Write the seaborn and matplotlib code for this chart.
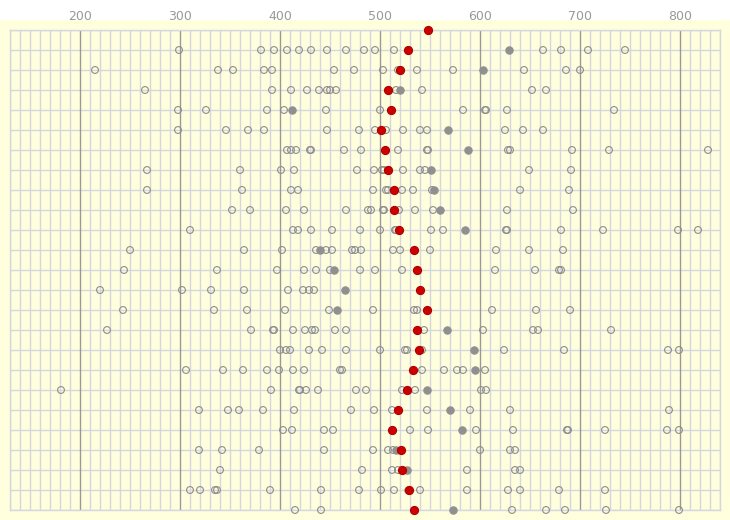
import pandas as pd
import matplotlib.pyplot as plt
import seaborn as sns
from matplotlib.ticker import MultipleLocator
from matplotlib.patches import Rectangle

# Valores (uma linha por categoria, de cima para baixo)
red_vals = [548, 528, 520, 508, 511, 501, 505, 508, 514, 514, 519, 534, 537,
            540, 547, 537, 539, 533, 527, 518, 512, 521, 522, 529, 534]

gray_vals = [[], [629], [603], [520], [412], [568], [588], [551], [554], [560],
             [585], [440], [454], [465], [457], [567], [594], [595], [547], [570],
             [582], [516], [527], [528], [573]]

open_vals = [
    [],
    [299, 381, 394, 407, 419, 431, 447, 466, 484, 495, 514, 663, 681, 708, 745],
    [215, 338, 353, 384, 392, 454, 474, 503, 518, 537, 573, 644, 686, 700],
    [265, 392, 411, 427, 439, 447, 450, 456, 516, 542, 652, 666],
    [298, 326, 387, 404, 446, 500, 583, 605, 606, 627, 734],
    [298, 346, 368, 384, 447, 479, 495, 506, 523, 540, 547, 625, 643, 663],
    [407, 411, 416, 430, 431, 464, 481, 518, 547, 548, 628, 630, 692, 729, 828],
    [267, 360, 401, 414, 477, 494, 502, 504, 523, 540, 545, 649, 691],
    [267, 362, 411, 418, 493, 506, 508, 522, 533, 552, 640, 689],
    [352, 370, 406, 424, 466, 488, 491, 503, 504, 519, 535, 553, 627, 693],
    [310, 413, 418, 431, 452, 480, 500, 515, 516, 551, 563, 626, 627, 681, 723, 798, 818],
    [250, 364, 402, 436, 446, 452, 472, 475, 481, 513, 520, 550, 616, 649, 683],
    [244, 337, 397, 424, 436, 450, 480, 495, 522, 615, 655, 679, 681],
    [220, 302, 331, 364, 408, 423, 429, 434],
    [243, 334, 367, 405, 449, 493, 534, 537, 612, 656, 690],
    [227, 371, 393, 394, 413, 425, 432, 435, 455, 466, 544, 603, 653, 658, 731],
    [400, 406, 410, 429, 442, 466, 500, 525, 527, 542, 624, 684, 788, 799],
    [306, 343, 363, 387, 399, 413, 424, 460, 462, 542, 564, 577, 583, 605],
    [181, 391, 419, 420, 426, 438, 476, 486, 522, 535, 601, 606],
    [319, 348, 359, 383, 414, 471, 494, 512, 547, 590, 630, 789],
    [403, 412, 444, 453, 530, 548, 596, 633, 687, 688, 725, 787, 799],
    [319, 342, 379, 444, 493, 508, 513, 600, 630, 635],
    [340, 482, 512, 518, 587, 635, 640],
    [310, 320, 335, 337, 390, 441, 479, 501, 514, 540, 587, 628, 640, 679, 725],
    [415, 441, 632, 666, 685, 726, 799],
]

tick_vals = [200, 300, 400, 500, 600, 700, 800]

bg = "#FFFFDD"
grid_col = "#D6D6DE"

# Monta os dados em formato longo
rows = []
for i, vals in enumerate(open_vals):
    for v in vals:
        rows.append({"linha": i, "valor": v, "tipo": "aberto"})
for i, vals in enumerate(gray_vals):
    for v in vals:
        rows.append({"linha": i, "valor": v, "tipo": "cinza"})
for i, v in enumerate(red_vals):
    rows.append({"linha": i, "valor": v, "tipo": "vermelho"})
df = pd.DataFrame(rows)

sns.set_style("white")
fig = plt.figure(figsize=(7.3, 5.2), dpi=100)
fig.patch.set_facecolor("white")
fig.patches.append(Rectangle((0, 0), 1, 500 / 520, transform=fig.transFigure,
                             facecolor=bg, edgecolor="none", zorder=-10))
ax = fig.add_axes([10 / 730, 10 / 520, 710 / 730, 480 / 520])
ax.set_facecolor(bg)

# Pontos abertos
d = df[df["tipo"] == "aberto"]
sns.scatterplot(x="valor", y="linha", data=d, ax=ax, marker="o", s=24,
                facecolor="none", edgecolor="#8c8c8c", linewidth=0.8,
                zorder=3, clip_on=False)
# Pontos cinza preenchidos
d = df[df["tipo"] == "cinza"]
sns.scatterplot(x="valor", y="linha", data=d, ax=ax, marker="o", s=28,
                color="#909090", edgecolor="#909090", linewidth=0.8,
                zorder=4, clip_on=False)
# Pontos vermelhos
d = df[df["tipo"] == "vermelho"]
sns.scatterplot(x="valor", y="linha", data=d, ax=ax, marker="o", s=34,
                color="#CC0000", edgecolor="#B00000", linewidth=0.8,
                zorder=5, clip_on=False)

ax.set_xlim(130, 840)
ax.set_ylim(24, 0)
ax.set_xlabel("")
ax.set_ylabel("")

# Grade
ax.xaxis.set_minor_locator(MultipleLocator(10))
ax.set_xticks(tick_vals)
ax.set_yticks(range(25))
ax.grid(which="minor", axis="x", color=grid_col, linewidth=1)
ax.grid(which="major", axis="y", color=grid_col, linewidth=1)
ax.set_axisbelow(True)
for x in tick_vals:
    ax.axvline(x, color="#999999", linewidth=1, zorder=1)
for s in ax.spines.values():
    s.set_color(grid_col)
    s.set_linewidth(1)

ax.xaxis.tick_top()
ax.tick_params(axis="x", which="both", length=0, pad=5, labelsize=9,
               labelcolor="#999999")
ax.tick_params(axis="y", which="both", length=0, labelleft=False)

fig.savefig("out.png", dpi=100, facecolor=fig.get_facecolor())
